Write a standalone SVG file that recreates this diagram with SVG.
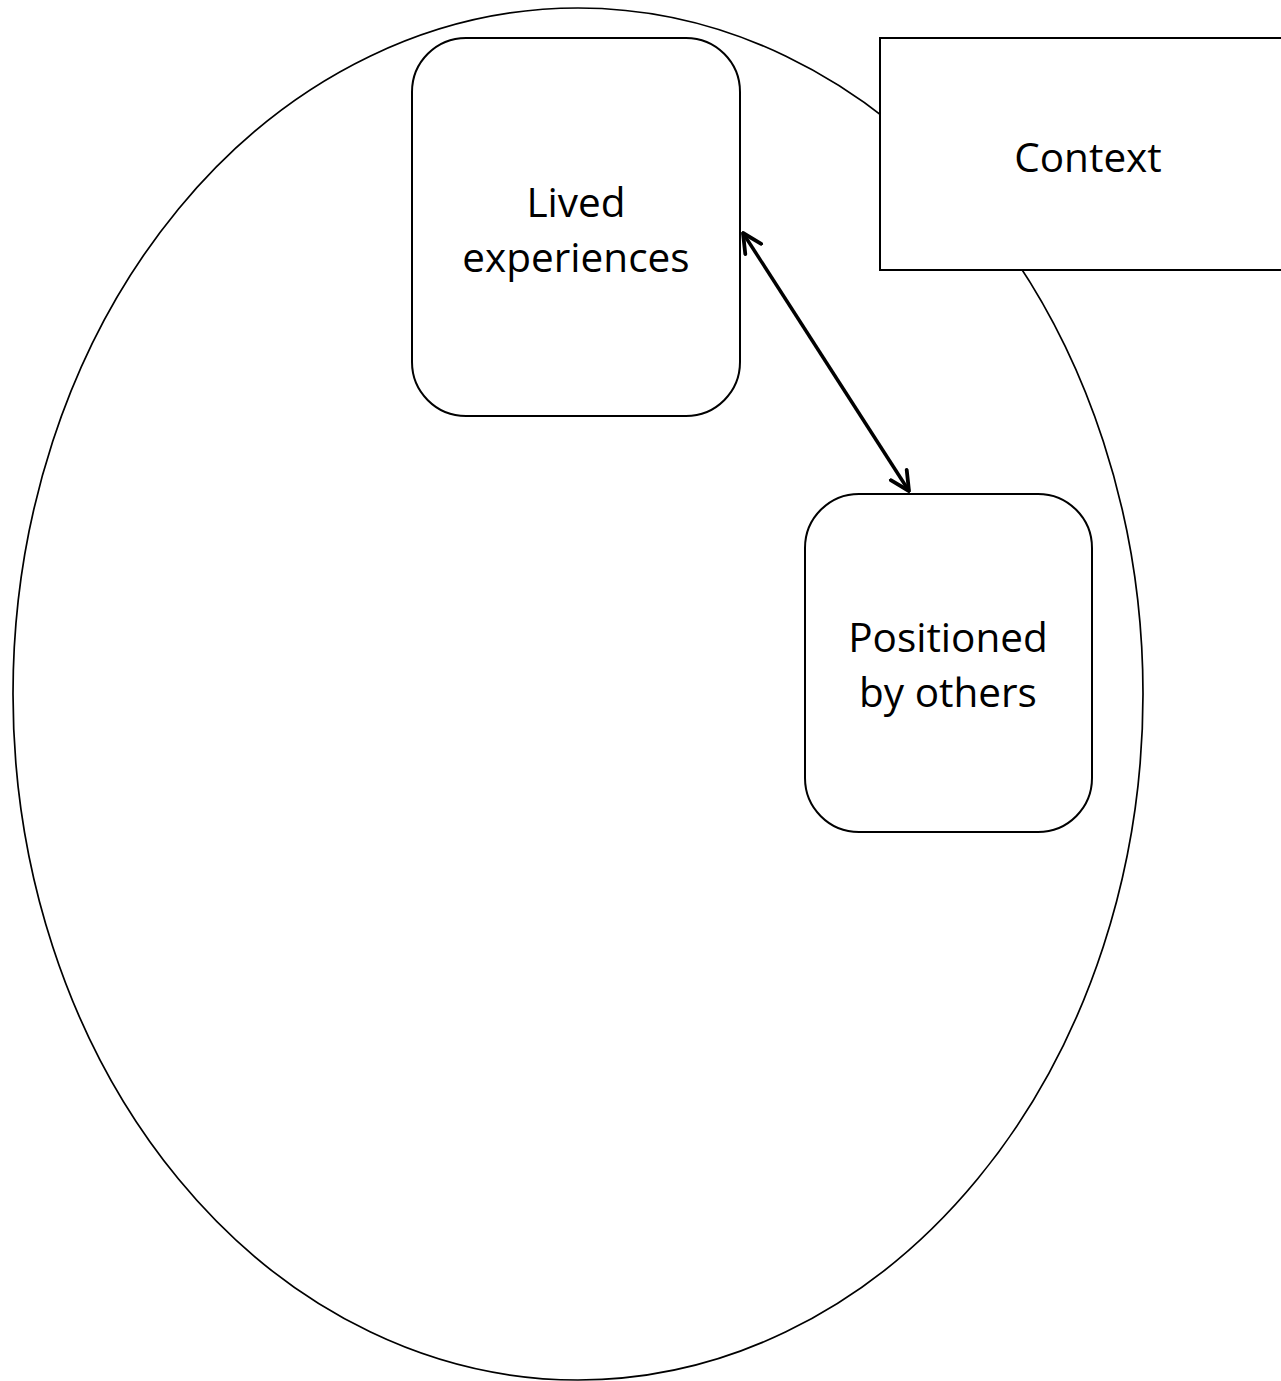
<svg xmlns="http://www.w3.org/2000/svg" width="1281" height="1381" viewBox="0 0 1281 1381">
<style>
.shape{fill:#fff;stroke:#000;stroke-width:2}
.lbl{font-family:"Open Sans","Liberation Sans",sans-serif;font-size:40.5px;fill:#000;text-anchor:middle}
</style>
<defs>
<marker id="ah" viewBox="0 0 12 12" refX="11" refY="6" markerWidth="6.5" markerHeight="6.5" orient="auto-start-reverse" markerUnits="strokeWidth">
<path d="M1,1 L11,6 L1,11" fill="none" stroke="#000" stroke-width="2" stroke-linecap="round" stroke-linejoin="round"/>
</marker>
</defs>
<rect width="1281" height="1381" fill="#fff"/>
<g id="circle"><ellipse cx="578" cy="694" rx="565" ry="686" fill="#fff" stroke="#000" stroke-width="1.7"/></g>
<g id="context"><rect class="shape" x="880" y="38" width="410" height="232"/><text class="lbl" x="1088" y="172">Context</text></g>
<g id="lived"><rect class="shape" x="412" y="38" width="328" height="378" rx="54" ry="54"/><text class="lbl" x="576" y="217">Lived</text><text class="lbl" x="576" y="272">experiences</text></g>
<g id="positioned"><rect class="shape" x="805" y="494" width="287" height="338" rx="54" ry="54"/><text class="lbl" x="948" y="652">Positioned</text><text class="lbl" x="948" y="707">by others</text></g>
<g id="connectors"><line x1="743" y1="233" x2="909" y2="491" stroke="#000" stroke-width="3.5" marker-start="url(#ah)" marker-end="url(#ah)"/></g>
</svg>
